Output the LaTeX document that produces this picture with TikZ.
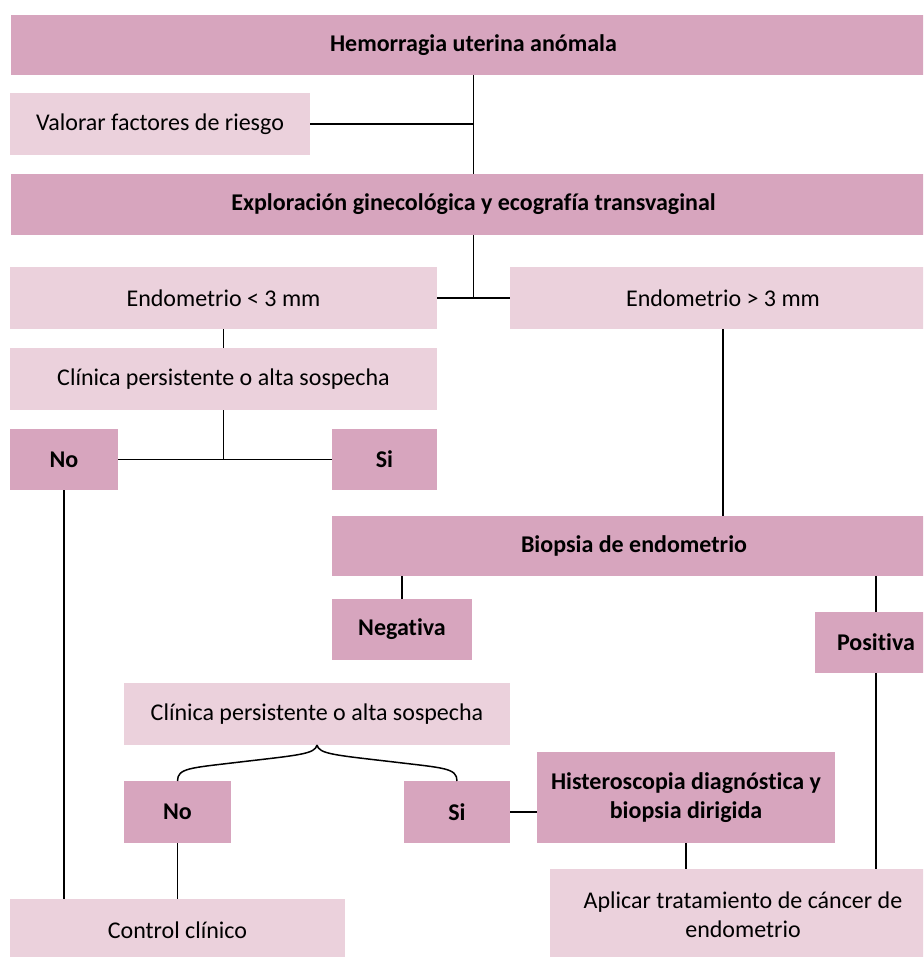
\documentclass[tikz,border=0pt]{standalone}
\usepackage{fontspec}
\setmainfont{Carlito}[Ligatures=NoCommon]
\definecolor{rosaosc}{RGB}{215,165,190}
\definecolor{rosacla}{RGB}{235,209,220}
\begin{document}
\begin{tikzpicture}[x=1pt,y=-1pt,
	caja/.style={fill=rosacla,inner sep=0pt,outer sep=0pt,align=center,font=\fontsize{24}{29}\selectfont},
	cajab/.style={caja,fill=rosaosc,font=\fontsize{24}{29}\selectfont\bfseries},
	linea/.style={line width=1.5pt}]
	\useasboundingbox (0,0) rectangle (923,957);
	\clip (0,0) rectangle (923,957);
	% cajas
	\node[cajab,minimum width=925pt,minimum height=60pt] (hem) at (473.5,45) {Hemorragia uterina anómala};
	\node[caja,minimum width=300pt,minimum height=62pt] (valorar) at (160,124) {Valorar factores de riesgo};
	\node[cajab,minimum width=925pt,minimum height=61pt] (expl) at (473.5,204.5) {Exploración ginecológica y ecografía transvaginal};
	\node[caja,minimum width=427pt,minimum height=62pt] (endoa) at (223.5,298) {Endometrio < 3 mm};
	\node[caja,minimum width=426pt,minimum height=62pt] (endob) at (723,298) {Endometrio > 3 mm};
	\node[caja,minimum width=427pt,minimum height=62pt] (clin1) at (223.5,379) {Clínica persistente o alta sospecha};
	\node[cajab,minimum width=108pt,minimum height=61pt] (noA) at (64,459.5) {No};
	\node[cajab,minimum width=105pt,minimum height=61pt] (siA) at (384.5,459.5) {Si};
	\node[cajab,minimum width=604pt,minimum height=60pt] (biop) at (634,546) {Biopsia de endometrio};
	\node[cajab,minimum width=140pt,minimum height=61pt] (neg) at (402,629.5) {Negativa};
	\node[cajab,minimum width=122pt,minimum height=61pt] (pos) at (876,642.5) {Positiva};
	\node[caja,minimum width=386pt,minimum height=62pt] (clin2) at (317,714) {Clínica persistente o alta sospecha};
	\node[cajab,minimum width=107pt,minimum height=62pt] (noB) at (177.5,812) {No};
	\node[cajab,minimum width=106pt,minimum height=62pt] (siB) at (457,812) {Si};
	\node[cajab,minimum width=298pt,minimum height=91pt] (hist) at (686,797.5) {Histeroscopia diagnóstica y\\biopsia dirigida};
	\node[caja,minimum width=335pt,minimum height=62pt] (control) at (177.5,930) {Control clínico};
	\node[caja,minimum width=386pt,minimum height=92pt] (aplic) at (743,915) {Aplicar tratamiento de cáncer de\\endometrio};
	% conectores
	\draw[linea] (hem.south) -- (expl.north);
	\draw[linea] (valorar.east) -- (valorar.east -| hem.south);
	\draw[linea] (endoa.east) -- (endob.west);
	\draw[linea] (expl.south) -- (expl.south |- endoa.east);
	\draw[linea] (endoa.south) -- (clin1.north);
	\draw[linea] (noA.east) -- (siA.west);
	\draw[linea] (clin1.south) -- (clin1.south |- noA.east);
	\draw[linea] (endob.south) -- (endob.south |- biop.north);
	\draw[linea] (neg.north) -- (neg.north |- biop.south);
	\draw[linea] (pos.north) -- (pos.north |- biop.south);
	\draw[linea] (pos.south) -- (pos.south |- aplic.north);
	\draw[linea] (noA.south) -- (noA.south |- control.north);
	\draw[linea] (noB.south) -- (noB.south |- control.north);
	\draw[linea] (siB.east) -- (siB.east -| hist.west);
	\draw[linea] (hist.south) -- (hist.south |- aplic.north);
	% llave
	\draw[linea] (noB.north) .. controls (177.5,768) and (190,768) .. (240,762)
		.. controls (300,755) and (315,754) .. (clin2.south);
	\draw[linea] (siB.north) .. controls (457,768) and (444,768) .. (394,762)
		.. controls (334,755) and (319,754) .. (clin2.south);
\end{tikzpicture}
\end{document}
